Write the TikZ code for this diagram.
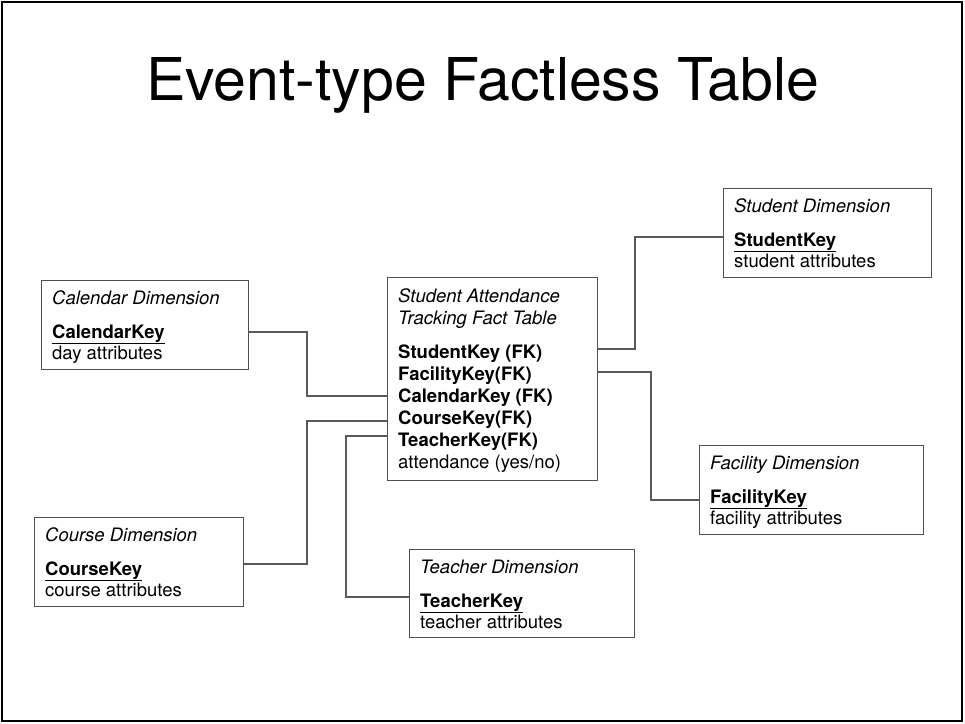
\documentclass[tikz,border=0pt]{standalone}
\usepackage{fontspec}
\setmainfont{TeX Gyre Heros}
\definecolor{boxgray}{RGB}{80,80,80}
\definecolor{linegray}{RGB}{90,90,90}
\newcommand{\keyul}[1]{\underline{\textbf{#1}}}
\begin{document}
\begin{tikzpicture}[x=1pt,y=-1pt,
  box/.style={draw=boxgray, line width=1.1pt, rectangle, inner sep=0pt, anchor=north west},
  txt/.style={anchor=base west, inner sep=0pt, font=\fontsize{18.5}{22}\selectfont},
  hdr/.style={anchor=base west, inner sep=0pt, font=\fontsize{18.5}{22}\selectfont\itshape},
  fk/.style={anchor=base west, inner sep=0pt, font=\fontsize{18.5}{22}\selectfont\bfseries},
  link/.style={draw=linegray, line width=1.1pt}]
\useasboundingbox (0,0) rectangle (965,723);
% slide frame and title
\draw[line width=2pt] (1.5,1.5) rectangle (962,721);
\node[anchor=base, inner sep=0pt, font=\fontsize{59}{66}\selectfont] (title) at (482.5,100) {Event-type Factless Table};

% fact table
\node[box, minimum width=210pt, minimum height=203pt] (fact) at (387,277) {};
\node[hdr] (fh1) at (398,302) {Student Attendance};
\node[hdr] (fh2) at (398,324) {Tracking Fact Table};
\node[fk] (rstu) at (398,358) {StudentKey (FK)};
\node[fk] (rfac) at (398,380) {FacilityKey(FK)};
\node[fk] (rcal) at (398,402) {CalendarKey (FK)};
\node[fk] (rcou) at (398,424) {CourseKey(FK)};
\node[fk] (rtea) at (398,446) {TeacherKey(FK)};
\node[txt] (ratt) at (398,468) {attendance (yes/no)};

% calendar dimension
\node[box, minimum width=207pt, minimum height=89pt] (cal) at (41,280) {};
\node[hdr] (calh) at (52,304) {Calendar Dimension};
\node[txt] (calk) at (52,338) {\keyul{CalendarKey}};
\node[txt] (cala) at (52,359) {day attributes};

% course dimension
\node[box, minimum width=209pt, minimum height=89pt] (cou) at (34,517) {};
\node[hdr] (couh) at (45,541) {Course Dimension};
\node[txt] (couk) at (45,575) {\keyul{CourseKey}};
\node[txt] (coua) at (45,596) {course attributes};

% teacher dimension
\node[box, minimum width=225pt, minimum height=88pt] (tea) at (409,549) {};
\node[hdr] (teah) at (420,573) {Teacher Dimension};
\node[txt] (teak) at (420,607) {\keyul{TeacherKey}};
\node[txt] (teaa) at (420,628) {teacher attributes};

% student dimension
\node[box, minimum width=208pt, minimum height=89pt] (stu) at (723,188) {};
\node[hdr] (stuh) at (734,212) {Student Dimension};
\node[txt] (stuk) at (734,246) {\keyul{StudentKey}};
\node[txt] (stua) at (734,267) {student attributes};

% facility dimension
\node[box, minimum width=224pt, minimum height=89pt] (fac) at (699,445) {};
\node[hdr] (fach) at (710,469) {Facility Dimension};
\node[txt] (fack) at (710,503) {\keyul{FacilityKey}};
\node[txt] (faca) at (710,524) {facility attributes};

% connectors
\draw[link] (cal.east |- 0,332) -- (307,332) -- (307,396) -- (fact.west |- 0,396);
\draw[link] (cou.east |- 0,564) -- (307,564) -- (307,421) -- (fact.west |- 0,421);
\draw[link] (fact.west |- 0,436) -- (346,436) -- (346,597) -- (tea.west |- 0,597);
\draw[link] (fact.east |- 0,349) -- (635,349) -- (635,237) -- (stu.west |- 0,237);
\draw[link] (fact.east |- 0,372) -- (651,372) -- (651,500) -- (fac.west |- 0,500);
\end{tikzpicture}
\end{document}
